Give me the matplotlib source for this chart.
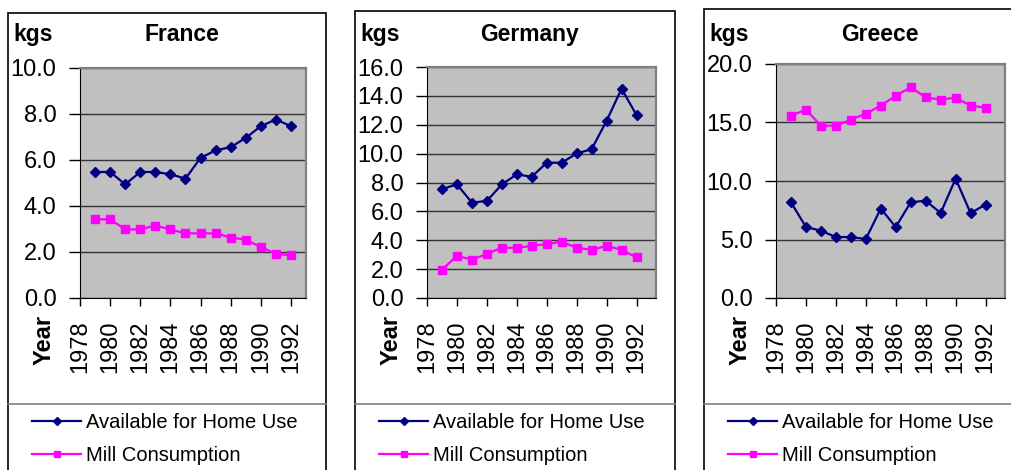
import matplotlib
matplotlib.use("Agg")
import matplotlib.pyplot as plt
from matplotlib.lines import Line2D
from matplotlib.patches import Rectangle

plt.rcParams["font.family"] = ["Liberation Sans", "DejaVu Sans"]

years = list(range(1979, 1993))

france_home = [5.48, 5.48, 4.94, 5.48, 5.48, 5.38, 5.19, 6.09, 6.42, 6.56, 6.96, 7.47, 7.76, 7.47]
france_mill = [3.42, 3.42, 2.98, 2.98, 3.15, 2.98, 2.81, 2.81, 2.81, 2.63, 2.54, 2.21, 1.93, 1.85]

germany_home = [7.55, 7.87, 6.61, 6.72, 7.87, 8.56, 8.40, 9.37, 9.37, 10.01, 10.31, 12.27, 14.50, 12.66]
germany_mill = [1.96, 2.92, 2.65, 3.06, 3.48, 3.48, 3.61, 3.73, 3.89, 3.48, 3.34, 3.61, 3.34, 2.81]

greece_home = [8.18, 6.07, 5.75, 5.21, 5.21, 5.04, 7.64, 6.07, 8.18, 8.32, 7.26, 10.20, 7.26, 7.98]
greece_mill = [15.58, 16.10, 14.73, 14.73, 15.24, 15.76, 16.44, 17.29, 18.00, 17.15, 16.95, 17.12, 16.44, 16.27]

year_ticks = list(range(1978, 1993, 2))
series_names = ["Available for Home Use", "Mill Consumption"]

NAVY = "#000080"
MAGENTA = "#FF00FF"

W, H = 1012, 470
fig = plt.figure(figsize=(W / 100, H / 100), dpi=100)


def px(x, y):
    return x / W, 1 - y / H


# chart frames: (box left, box right, box top, plot left, plot right, plot top, plot bottom, title x)
panels = [
    ("France", france_home, france_mill, 10, 2, 1993.0,
     (8, 326, 13, 80, 306, 68, 298, 182)),
    ("Germany", germany_home, germany_mill, 16, 2, 1993.3,
     (355, 675, 11, 427, 656, 67, 298, 530)),
    ("Greece", greece_home, greece_mill, 20, 5, 1993.3,
     (704, 1030, 9, 776, 1005, 64, 298, 880)),
]

for name, home, mill, ymax, ystep, xmax, geo in panels:
    bl, br, bt, pl, pr, pt, pb, tx = geo

    # outer chart border and legend box
    fig.patches.append(Rectangle(px(bl, 480), (br - bl) / W, (480 - bt) / H,
                                 transform=fig.transFigure, fill=False,
                                 edgecolor="black", linewidth=1.2))
    fig.add_artist(Line2D([bl / W, br / W], [1 - 404 / H] * 2,
                          transform=fig.transFigure, color="#808080", lw=1.2))

    x0, y0 = px(pl, pb)
    ax = fig.add_axes([x0, y0, (pr - pl) / W, (pb - pt) / H])
    ax.set_facecolor("#C0C0C0")
    ax.plot(years, home, color=NAVY, lw=1.6, marker="D", ms=5.2)
    ax.plot(years, mill, color=MAGENTA, lw=1.6, marker="s", ms=5.5)

    ax.set_xlim(1978, xmax)
    ax.set_ylim(0, ymax)
    ax.set_yticks(range(0, ymax + 1, ystep))
    ax.set_yticklabels(["%.1f" % v for v in range(0, ymax + 1, ystep)])
    ax.set_xticks(year_ticks)
    ax.set_xticklabels([str(y) for y in year_ticks], rotation=90)
    ax.tick_params(axis="y", direction="out", length=8, width=1, pad=9, labelsize=17)
    ax.tick_params(axis="x", direction="out", length=6, width=1, pad=10, labelsize=17)
    ax.yaxis.grid(True, color="#333333", lw=1)
    ax.set_axisbelow(True)
    for s in ("top", "right"):
        ax.spines[s].set_color("#808080")
        ax.spines[s].set_linewidth(1.6)
    ax.spines["left"].set_color("black")
    ax.spines["bottom"].set_color("black")

    fig.text(*px(bl + 5, 41), "kgs", fontsize=16.5, fontweight="bold", va="baseline")
    fig.text(*px(tx, 41), name, fontsize=16.5, fontweight="bold", ha="center", va="baseline")
    fig.text(*px(bl + 36, 340), "Year", fontsize=17, fontweight="bold",
             rotation=90, ha="center", va="center")

    handles = [Line2D([], [], color=NAVY, lw=1.6, marker="D", ms=4),
               Line2D([], [], color=MAGENTA, lw=1.6, marker="s", ms=4)]
    fig.legend(handles, series_names, loc="upper left",
               bbox_to_anchor=px(bl + 20, 409), frameon=False, fontsize=14.5,
               handlelength=2.45, handletextpad=0.25, labelspacing=0.7,
               borderaxespad=0, borderpad=0.2)

fig.savefig("out.png", dpi=100)
